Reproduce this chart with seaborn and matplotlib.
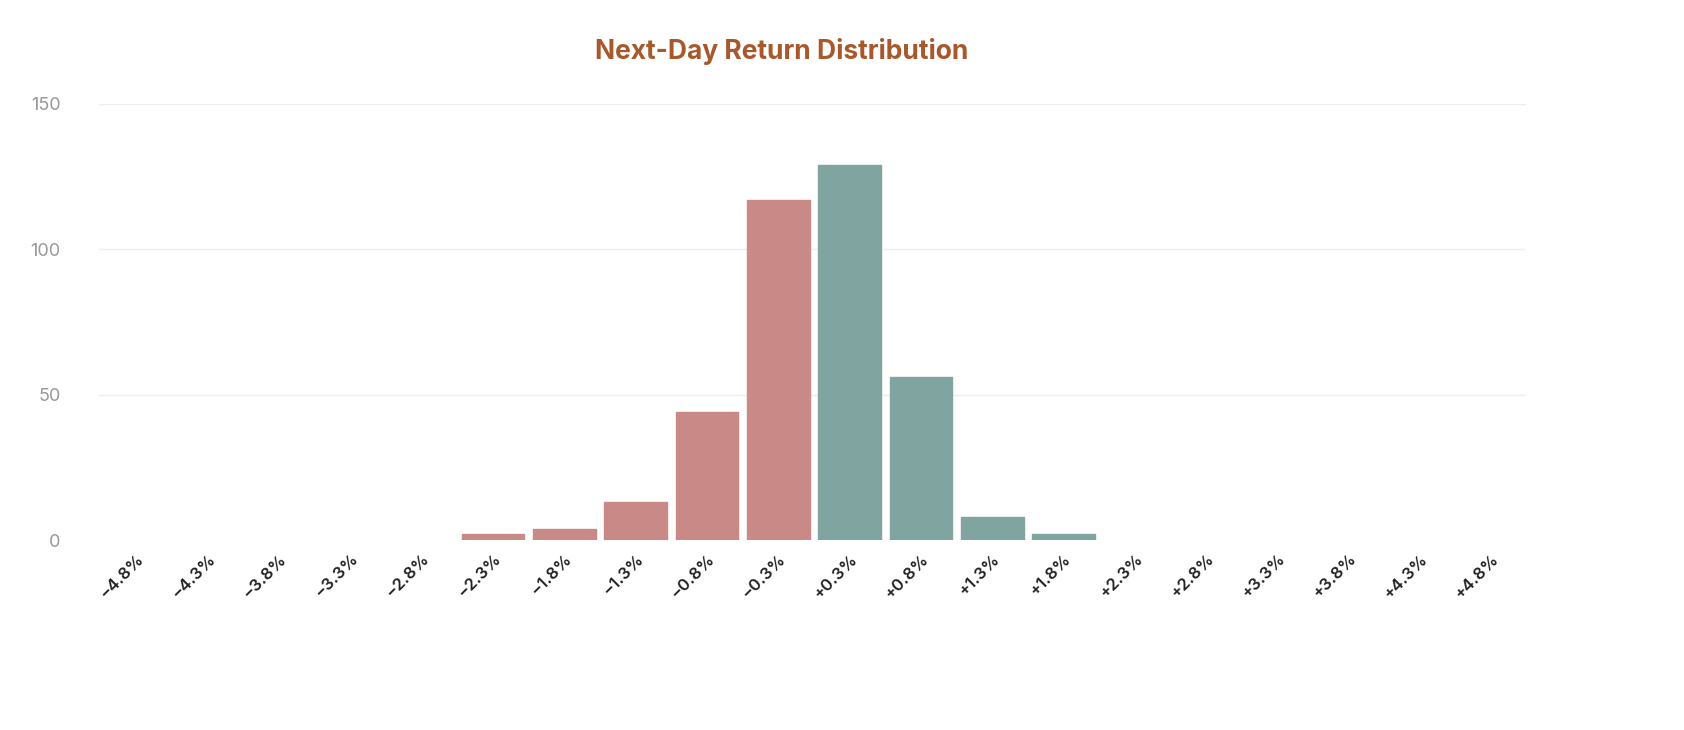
import matplotlib
matplotlib.use("Agg")
import matplotlib.pyplot as plt
import seaborn as sns
import pandas as pd

# bin labels and counts
bins = ["−4.8%", "−4.3%", "−3.8%", "−3.3%", "−2.8%", "−2.3%", "−1.8%", "−1.3%", "−0.8%", "−0.3%",
        "+0.3%", "+0.8%", "+1.3%", "+1.8%", "+2.3%", "+2.8%", "+3.3%", "+3.8%", "+4.3%", "+4.8%"]
counts = [0, 0, 0, 0, 0, 2, 4, 13, 44, 117, 129, 56, 8, 2, 0, 0, 0, 0, 0, 0]
sides = ["neg"] * 10 + ["pos"] * 10

df = pd.DataFrame({"bin": bins, "count": counts, "side": sides})

sns.set_style("white")
plt.rcParams["font.family"] = ["Inter", "DejaVu Sans"]

fig = plt.figure(figsize=(16.84, 7.3), dpi=100)
ax = fig.add_axes([0.059, 0.26, 0.847, 0.598])

sns.barplot(data=df, x="bin", y="count", hue="side", dodge=False, legend=False,
            palette={"neg": "#d4807c", "pos": "#7aaba4"},
            width=0.88, ax=ax, zorder=3)
for p in ax.patches:
    if p.get_height() > 0:
        p.set_edgecolor(p.get_facecolor())
        p.set_linewidth(1)
    else:
        p.set_visible(False)

ax.set_ylim(0, 150)
ax.set_xlim(-0.52, 19.48)
ax.set_yticks([0, 50, 100, 150])
ax.yaxis.grid(True, color="#eeeeee", linewidth=1, zorder=0)
ax.set_axisbelow(True)
sns.despine(ax=ax, left=True, bottom=True)
ax.tick_params(axis="y", colors="#999999", labelsize=13, length=0, pad=28)
ax.tick_params(axis="x", length=0, pad=8)
plt.setp(ax.get_xticklabels(), rotation=45, ha="right", rotation_mode="anchor",
         fontsize=12, fontweight="semibold", color="#222222")
ax.set_xlabel("")
ax.set_ylabel("")
fig.text(0.464, 0.93, "Next-Day Return Distribution", ha="center", va="center",
         fontsize=19, fontweight="bold", color="#a8582a")

fig.savefig("out.png", dpi=100)
